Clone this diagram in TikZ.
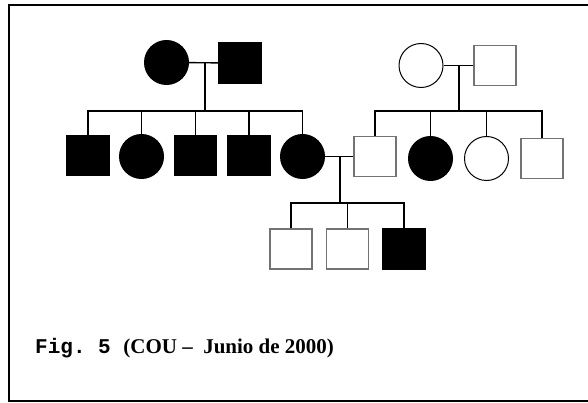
\documentclass[tikz,border=0pt]{standalone}
\usepackage{fontspec}
\setmainfont{Liberation Serif}
\setmonofont{Liberation Mono}
\usepackage{tikz}
\usetikzlibrary{positioning}

\begin{document}
\begin{tikzpicture}[x=1pt,y=-1pt,shape=rectangle,
  male/.style={draw=black!55, line width=1.4pt, minimum width=42pt, minimum height=40pt, inner sep=0pt},
  female/.style={draw, circle, line width=1pt, minimum size=44pt, inner sep=0pt},
  ill/.style={fill=black, draw=black},
  line/.style={line width=1.4pt}]
\useasboundingbox (0,0) rectangle (588,403);
\draw[line width=1.5pt] (588,5) -- (9,5) -- (9,401) -- (588,401);

% first generation
\node (mumA) [female, ill] at (166.5,62.5) {};
\node (dadA) [male, ill] at (240,63) {};
\node (mumB) [female] at (421,65.5) {};
\node (dadB) [male] at (495,65.5) {};

% second generation
\node (sonA1) [male, ill] at (88,155.5) {};
\node (girlA2) [female, ill] at (141.5,156.5) {};
\node (sonA3) [male, ill] at (195.5,155.5) {};
\node (sonA4) [male, ill] at (249,155.5) {};
\node (girlA5) [female, ill] at (302.5,156.5) {};
\node (sonB1) [male] at (375,156.5) {};
\node (girlB2) [female, ill] at (430.5,158.5) {};
\node (girlB3) [female] at (486.5,158.5) {};
\node (sonB4) [male] at (542,158.5) {};

% third generation
\node (kid1) [male] at (291,249) {};
\node (kid2) [male] at (347.5,249) {};
\node (kid3) [male, ill] at (404,249) {};

\coordinate (sibA) at (205,111);
\coordinate (sibB) at (459,111);
\coordinate (sibC) at (340,203);

\draw[line] (mumA) -- (dadA);
\draw[line] (mumB) -- (dadB);
\draw[line] (girlA5) -- (sonB1);
\draw[line] (sibA) -- (sibA |- mumA);
\draw[line] (sibB) -- (sibB |- mumB);
\draw[line] (sibC) -- (sibC |- girlA5);

\draw[line] (sonA1) |- (sibA);
\draw[line] (girlA2) |- (sibA);
\draw[line] (sonA3) |- (sibA);
\draw[line] (sonA4) |- (sibA);
\draw[line] (girlA5) |- (sibA);
\draw[line] (sonB1) |- (sibB);
\draw[line] (girlB2) |- (sibB);
\draw[line] (girlB3) |- (sibB);
\draw[line] (sonB4) |- (sibB);
\draw[line] (kid1) |- (sibC);
\draw[line] (kid2) |- (sibC);
\draw[line] (kid3) |- (sibC);

\node (caption) [anchor=base west, inner sep=0pt, font=\fontsize{21}{25}\selectfont\bfseries]
  at (35,353) {\ttfamily Fig. 5 \rmfamily(COU –~~Junio de 2000)};
\end{tikzpicture}
\end{document}
